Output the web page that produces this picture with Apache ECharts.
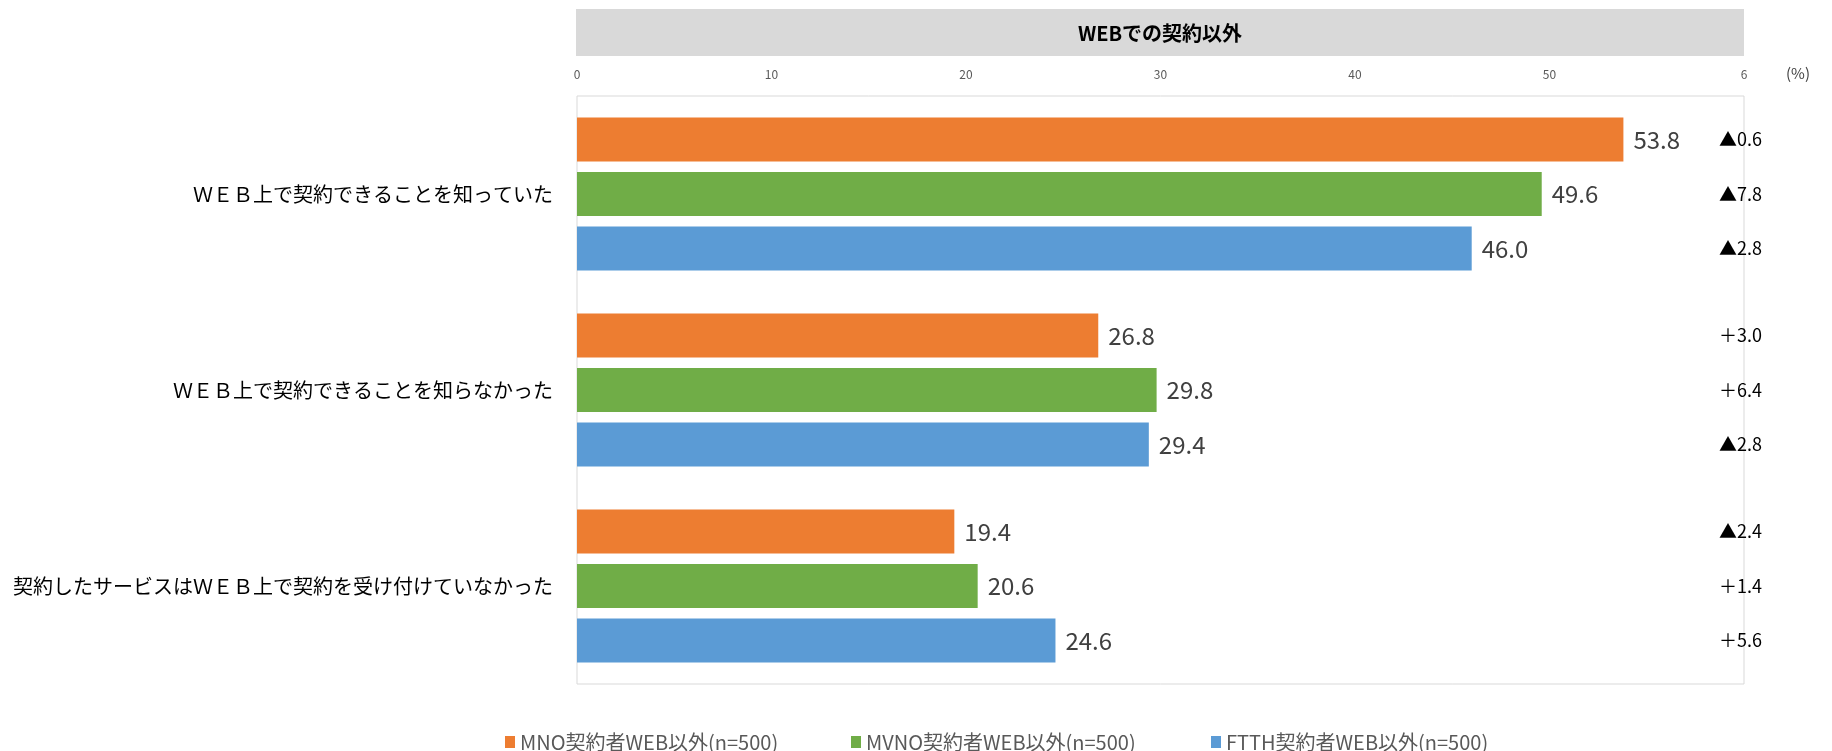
<!DOCTYPE html>
<html>
<head>
<meta charset="utf-8">
<script src="https://cdn.jsdelivr.net/npm/echarts@6/dist/echarts.min.js"></script>
<style>
  html, body { margin: 0; padding: 0; background: #fff; }
  #chart { width: 1832px; height: 751px; }
</style>
</head>
<body>
<div id="chart"></div>
<script>
// カテゴリ
const categories = [
  'ＷＥＢ上で契約できることを知っていた',
  'ＷＥＢ上で契約できることを知らなかった',
  '契約したサービスはＷＥＢ上で契約を受け付けていなかった'
];
const seriesNames = [
  'MNO契約者WEB以外(n=500)',
  'MVNO契約者WEB以外(n=500)',
  'FTTH契約者WEB以外(n=500)'
];
// 値 (%)
const mnoValues = [53.8, 26.8, 19.4];
const mvnoValues = [49.6, 29.8, 20.6];
const ftthValues = [46.0, 29.4, 24.6];
// 差分 (マイナスは▲)
const mnoDiff = [-0.6, 3.0, -2.4];
const mvnoDiff = [-7.8, 6.4, 1.4];
const ftthDiff = [-2.8, -2.8, 5.6];
const xTicks = [0, 10, 20, 30, 40, 50, 60];

const colors = ['#ed7d31', '#70ad47', '#5b9bd5'];
const FONT = '"Noto Sans CJK JP", "Noto Sans", sans-serif';
const BAR_W = 44;
const BAR_GAP = 0.24;

const diffs = [mnoDiff, mvnoDiff, ftthDiff];
const diffData = [];
diffs.forEach(function (arr, s) {
  arr.forEach(function (d, c) {
    diffData.push([xTicks[xTicks.length - 1], c, s, d]);
  });
});

const chart = echarts.init(document.getElementById('chart'));

function barSeries(i, data) {
  return {
    name: seriesNames[i],
    type: 'bar',
    data: data,
    barWidth: BAR_W,
    barGap: (BAR_GAP * 100) + '%',
    itemStyle: { color: colors[i] },
    label: {
      show: true,
      position: 'right',
      distance: 10,
      color: '#404040',
      fontSize: 24,
      fontFamily: FONT,
      formatter: function (p) { return p.value.toFixed(1); }
    }
  };
}

function legendAt(i, left) {
  return {
    data: [seriesNames[i]],
    left: left,
    top: 727,
    icon: 'rect',
    itemWidth: 10,
    itemHeight: 12,
    itemGap: 4,
    textStyle: { color: '#595959', fontSize: 20, fontFamily: FONT }
  };
}

const option = {
  animation: false,
  textStyle: { fontFamily: FONT },
  grid: {
    left: 577, right: 88, top: 96, bottom: 67,
    show: true, borderColor: '#d9d9d9', borderWidth: 1, backgroundColor: '#fff'
  },
  graphic: [
    {
      type: 'rect',
      shape: { x: 576, y: 9, width: 1168, height: 47 },
      style: { fill: '#d9d9d9' },
      z: -1
    },
    {
      type: 'text',
      x: 1160, y: 33,
      style: {
        text: 'WEBでの契約以外', fill: '#000', fontSize: 20, fontWeight: 'bold',
        fontFamily: FONT, align: 'center', verticalAlign: 'middle'
      }
    },
    {
      type: 'text',
      x: 1786, y: 73,
      style: {
        text: '(%)', fill: '#404040', fontSize: 15, fontFamily: FONT,
        align: 'left', verticalAlign: 'middle'
      }
    }
  ],
  legend: [legendAt(0, 500), legendAt(1, 846), legendAt(2, 1206)],
  xAxis: {
    type: 'value',
    position: 'top',
    min: 0, max: 60, interval: 10,
    axisLine: { show: false },
    axisTick: { show: false },
    splitLine: { show: false },
    axisLabel: {
      margin: 16,
      color: '#595959',
      fontSize: 12,
      fontFamily: FONT,
      // 右端は元図で途切れている
      formatter: function (v) { return v === 60 ? '6' : String(v); }
    }
  },
  yAxis: {
    type: 'category',
    inverse: true,
    data: categories,
    axisLine: { show: false },
    axisTick: { show: false },
    axisLabel: {
      margin: 24,
      color: '#000',
      fontSize: 20,
      fontFamily: FONT
    }
  },
  series: [
    barSeries(0, mnoValues),
    barSeries(1, mvnoValues),
    barSeries(2, ftthValues),
    {
      type: 'custom',
      silent: true,
      clip: false,
      data: diffData,
      encode: { x: 0, y: 1 },
      z: 10,
      renderItem: function (params, api) {
        const pt = api.coord([api.value(0), api.value(1)]);
        const s = api.value(2);
        const d = api.value(3);
        const step = BAR_W * (1 + BAR_GAP);
        const txt = d < 0 ? '▲' + Math.abs(d).toFixed(1) : '＋' + d.toFixed(1);
        return {
          type: 'text',
          x: pt[0] + 18,
          y: pt[1] + (s - 1) * step,
          style: {
            text: txt, fill: '#000', fontSize: 18, fontFamily: FONT,
            align: 'right', verticalAlign: 'middle'
          }
        };
      }
    }
  ]
};

chart.setOption(option);
</script>
</body>
</html>
